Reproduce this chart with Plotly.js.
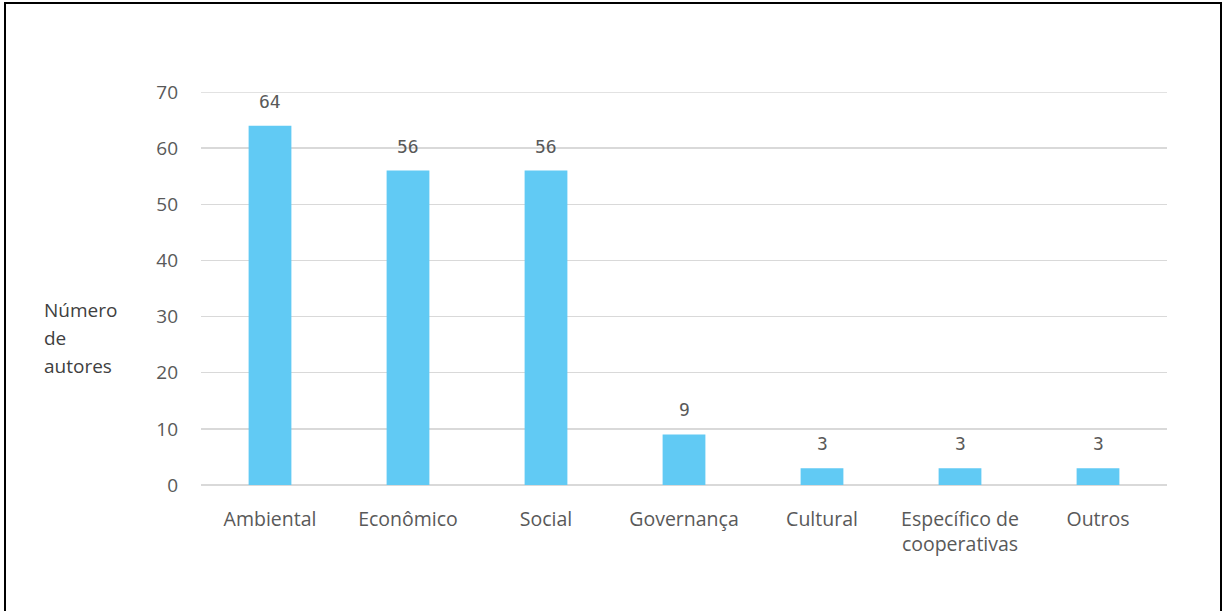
<!DOCTYPE html>
<html>
<head>
<meta charset="utf-8">
<script src="https://cdn.plot.ly/plotly-3.0.1.min.js"></script>
<style>
html,body{margin:0;padding:0;background:#fff;overflow:hidden;}
#chart{position:absolute;left:0;top:0;width:1223px;height:611px;}
#frame{position:absolute;left:4px;top:2px;width:1214px;height:640px;border:2px solid #000;pointer-events:none;}
</style>
</head>
<body>
<div id="chart"></div>
<div id="frame"></div>
<script>
const categories = ["Ambiental", "Econômico", "Social", "Governança", "Cultural", "Específico de<br>cooperativas", "Outros"];
const values = [64, 56, 56, 9, 3, 3, 3];
const yTicks = [0, 10, 20, 30, 40, 50, 60, 70];
const yTitleLines = ["Número", "de", "autores"];

const trace = {
  type: "bar",
  x: categories,
  y: values,
  marker: {color: "#61CAF4"},
  hoverinfo: "x+y"
};

const labelAnnotations = categories.map((c, i) => ({
  x: c, y: values[i], xref: "x", yref: "y",
  text: String(values[i]),
  showarrow: false, yanchor: "bottom", yshift: 12,
  font: {family: "DejaVu Sans Mono", size: 18, color: "#595959"}
}));

const titleAnnotations = yTitleLines.map((t, i) => ({
  xref: "paper", yref: "paper", x: -0.1646, y: (485 - 310 - 28 * i) / 393,
  xanchor: "left", yanchor: "middle", align: "left",
  text: t, showarrow: false,
  font: {size: 19, color: "#404040"}
}));

const layout = {
  width: 1223, height: 611,
  margin: {l: 201, r: 56, t: 92, b: 126},
  paper_bgcolor: "#fff", plot_bgcolor: "#fff",
  bargap: 0.69,
  showlegend: false,
  font: {family: "Open Sans, Noto Sans, sans-serif", size: 19, color: "#595959"},
  xaxis: {
    showgrid: false, showline: false, zeroline: false, ticks: "",
    ticklabelstandoff: 20,
    tickfont: {size: 19.5, color: "#595959"}
  },
  yaxis: {
    range: [0, 70], tickvals: yTicks, ticktext: yTicks.map(String),
    showgrid: true, gridcolor: "#d9d9d9", gridwidth: 1.5,
    zeroline: true, zerolinecolor: "#d9d9d9", zerolinewidth: 1.5,
    showline: false, ticks: "",
    ticklabelstandoff: 22,
    tickfont: {size: 19, color: "#595959"}
  },
  shapes: [{
    type: "line", xref: "paper", x0: 0, x1: 1, yref: "y",
    y0: yTicks[yTicks.length - 1], y1: yTicks[yTicks.length - 1],
    line: {color: "#d9d9d9", width: 1.5}, layer: "below"
  }],
  annotations: labelAnnotations.concat(titleAnnotations)
};

Plotly.newPlot("chart", [trace], layout, {displayModeBar: false, staticPlot: true});
</script>
</body>
</html>
